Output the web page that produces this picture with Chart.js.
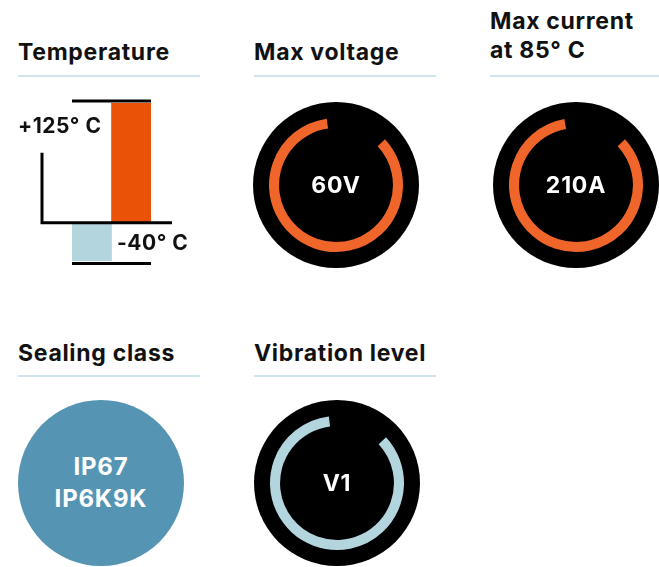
<!DOCTYPE html>
<html>
<head>
<meta charset="utf-8">
<script src="https://cdn.jsdelivr.net/npm/chart.js@4"></script>
<style>
  html, body { margin: 0; padding: 0; background: #fff; }
  body { width: 659px; height: 567px; position: relative; overflow: hidden; font-family: Inter, "Liberation Sans", sans-serif; font-weight: 700; color: #111; }
  .title { position: absolute; font-size: 23px; line-height: 29px; letter-spacing: 0.7px; white-space: nowrap; }
  .rule { position: absolute; height: 2px; background: #cfe5eb; }
  .lbl { position: absolute; font-size: 21px; line-height: 24px; letter-spacing: 0.5px; white-space: nowrap; }
  .disc { position: absolute; width: 166px; height: 166px; border-radius: 50%; background: #000; }
  .disc canvas { position: absolute; left: 0; top: 0; }
  .val { position: absolute; left: 0; top: 0; width: 166px; height: 166px; display: flex; align-items: center; justify-content: center; color: #fff; font-size: 23px; letter-spacing: 0.8px; text-align: center; line-height: 32px; }
  #temp { position: absolute; left: 0; top: 0; }
</style>
</head>
<body>
<div class="title" style="left:18px;top:38px">Temperature</div>
<div class="title" style="left:254px;top:38px">Max voltage</div>
<div class="title" style="left:490px;top:7px">Max current<br>at 85° C</div>
<div class="title" style="left:18px;top:339px">Sealing class</div>
<div class="title" style="left:254px;top:339px">Vibration level</div>

<div class="rule" style="left:18px;top:75px;width:182px"></div>
<div class="rule" style="left:254px;top:75px;width:182px"></div>
<div class="rule" style="left:490px;top:75px;width:169px"></div>
<div class="rule" style="left:18px;top:375px;width:182px"></div>
<div class="rule" style="left:254px;top:375px;width:182px"></div>

<canvas id="temp" width="220" height="300"></canvas>
<div class="lbl" style="left:18px;top:114px">+125° C</div>
<div class="lbl" style="left:117px;top:231px">-40° C</div>

<div class="disc" style="left:253px;top:102px"><canvas id="g0" width="166" height="166"></canvas><div class="val">60V</div></div>
<div class="disc" style="left:493px;top:102px"><canvas id="g1" width="166" height="166"></canvas><div class="val">210A</div></div>
<div class="disc" style="left:18px;top:400px;background:#5594b3"><div class="val" style="font-size:24px">IP67<br>IP6K9K</div></div>
<div class="disc" style="left:254px;top:400px"><canvas id="g2" width="166" height="166"></canvas><div class="val">V1</div></div>

<script>
// temperature range (deg C)
const tempLabels = ['min', 'max'];
const tempMin = -40;
const tempMax = 125;
const tempColors = ['#b3d5de', '#ea5208'];

// gauges: arc span in degrees, and where the gap ends (clockwise from top)
const gaugeIds = ['g0', 'g1', 'g2'];
const gaugeArc = [305, 303, 306];
const gaugeStart = [47, 47, 47];
const gaugeColors = ['#f0652a', '#f0652a', '#b3d5de'];

const rangeLines = {
  id: 'rangeLines',
  afterDatasetsDraw(chart) {
    const c = chart.ctx, y = chart.scales.y, a = chart.chartArea;
    c.save();
    c.strokeStyle = '#000';
    c.lineWidth = 3;
    c.beginPath();
    let top = y.getPixelForValue(tempMax) - 2;
    let bot = y.getPixelForValue(tempMin) + 2.5;
    c.moveTo(a.left, top); c.lineTo(a.right, top);
    c.moveTo(a.left, bot); c.lineTo(a.right, bot);
    // small L shaped axis
    let zero = y.getPixelForValue(0);
    c.moveTo(42, y.getPixelForValue(73));
    c.lineTo(42, zero);
    c.lineTo(172, zero);
    c.stroke();
    c.restore();
  }
};

new Chart(document.getElementById('temp'), {
  type: 'bar',
  data: {
    labels: tempLabels,
    datasets: [{
      data: [[tempMin, 0], [0, tempMax]],
      backgroundColor: tempColors,
      borderWidth: 0,
      barPercentage: 1,
      categoryPercentage: 1
    }]
  },
  options: {
    responsive: false,
    animation: false,
    layout: { padding: { left: 72, right: 69, top: 103, bottom: 39 } },
    scales: {
      x: { display: false },
      y: { display: false, min: tempMin, max: tempMax }
    },
    plugins: { legend: { display: false }, tooltip: { enabled: false } }
  },
  plugins: [rangeLines]
});

gaugeIds.forEach((id, i) => {
  new Chart(document.getElementById(id), {
    type: 'doughnut',
    data: {
      labels: ['arc', 'gap'],
      datasets: [{
        data: [gaugeArc[i], 360 - gaugeArc[i]],
        backgroundColor: [gaugeColors[i], 'rgba(0,0,0,0)'],
        borderWidth: 0
      }]
    },
    options: {
      responsive: false,
      animation: false,
      rotation: gaugeStart[i],
      cutout: '85%',
      layout: { padding: 16 },
      plugins: { legend: { display: false }, tooltip: { enabled: false } }
    }
  });
});
</script>
</body>
</html>
